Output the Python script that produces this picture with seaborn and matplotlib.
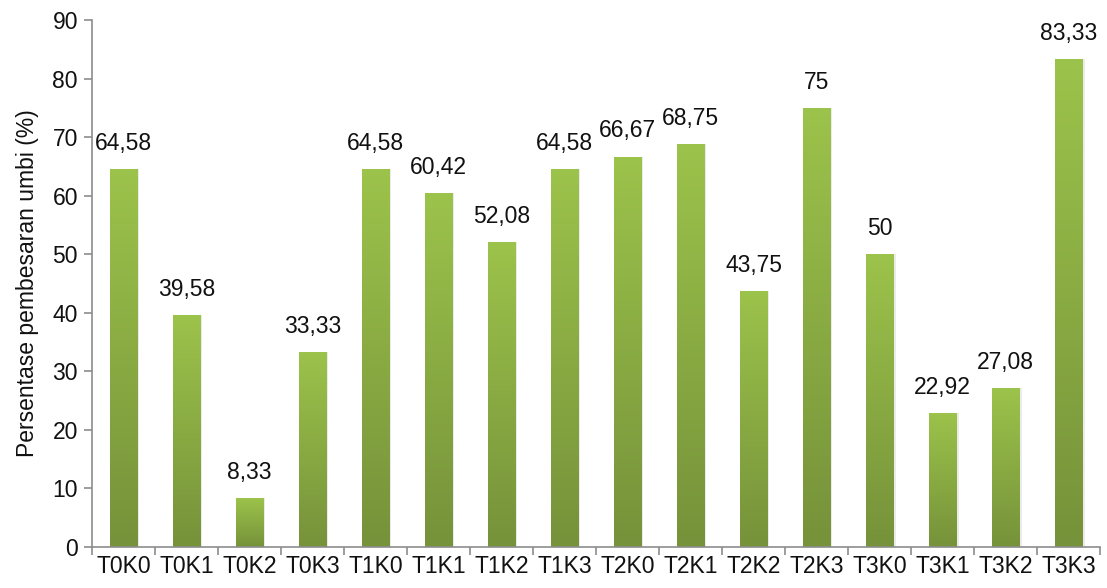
import numpy as np
import pandas as pd
import matplotlib
matplotlib.use("Agg")
import matplotlib.pyplot as plt
from matplotlib.colors import LinearSegmentedColormap
import seaborn as sns

categories = ["T0K0", "T0K1", "T0K2", "T0K3", "T1K0", "T1K1", "T1K2", "T1K3",
              "T2K0", "T2K1", "T2K2", "T2K3", "T3K0", "T3K1", "T3K2", "T3K3"]
values = [64.58, 39.58, 8.33, 33.33, 64.58, 60.42, 52.08, 64.58,
          66.67, 68.75, 43.75, 75, 50, 22.92, 27.08, 83.33]
y_ticks = [0, 10, 20, 30, 40, 50, 60, 70, 80, 90]

sns.set_theme(style="white")
plt.rcParams["font.family"] = ["Liberation Sans", "DejaVu Sans"]

df = pd.DataFrame({"perlakuan": categories, "persen": values})

fig = plt.figure(figsize=(11.07, 5.88), dpi=100)
ax = fig.add_axes([0.083, 0.0697, 0.911, 0.8963])

sns.barplot(data=df, x="perlakuan", y="persen", ax=ax, color="#8db545",
            width=0.44, saturation=1, edgecolor="none")

# vertical green gradient inside each bar
grad_cmap = LinearSegmentedColormap.from_list("g", ["#76923a", "#9cc34b"])
grad = np.linspace(0, 1, 256).reshape(-1, 1)
for bar in ax.patches:
    x0, y0 = bar.get_x(), bar.get_y()
    w, h = bar.get_width(), bar.get_height()
    # soft shadow to the right
    ax.add_patch(plt.Rectangle((x0 + 0.03, y0), w, h, color="#000000",
                               alpha=0.08, lw=0, zorder=1.5))
    im = ax.imshow(grad, cmap=grad_cmap, aspect="auto", origin="lower",
                   extent=(x0, x0 + w, y0, y0 + h), zorder=2.5)
    im.set_clip_path(bar)
    bar.set_zorder(2)

for i, v in enumerate(values):
    label = f"{v:.2f}".replace(".", ",") if v != int(v) else f"{int(v)}"
    ax.annotate(label, xy=(i, v), xytext=(0, 18.5), textcoords="offset points",
                ha="center", va="center", fontsize=16.5, color="#111111")

ax.set_xlim(-0.5, len(categories) - 0.5)
ax.set_ylim(0, 90)
ax.set_yticks(y_ticks)
ax.set_yticklabels([str(t) for t in y_ticks], fontsize=16.5, color="#111111")
ax.set_xticks(range(len(categories)))
ax.set_xticklabels(categories, fontsize=16.5, color="#111111")
ax.set_xlabel("")
ax.set_ylabel("Persentase pembesaran umbi (%)", fontsize=16.5, color="#111111",
              labelpad=10)

for side in ["top", "right"]:
    ax.spines[side].set_visible(False)
for side in ["left", "bottom"]:
    ax.spines[side].set_color("#8c8c8c")
    ax.spines[side].set_linewidth(1.2)

ax.tick_params(axis="y", which="major", direction="out", length=6,
               width=1.2, color="#8c8c8c", left=True, pad=4)
ax.tick_params(axis="x", which="major", length=0, pad=6)
# tick marks at category boundaries
ax.set_xticks(np.arange(-0.5, len(categories), 1), minor=True)
ax.tick_params(axis="x", which="minor", direction="out", length=6,
               width=1.2, color="#8c8c8c", bottom=True)

fig.savefig("out.png", dpi=100)
